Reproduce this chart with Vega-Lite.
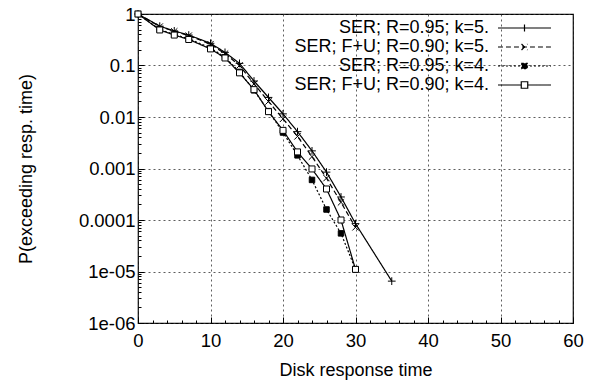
{
  "$schema": "https://vega.github.io/schema/vega-lite/v6.json",
  "autosize": "none",
  "width": 435,
  "height": 309,
  "padding": {"left": 138, "top": 14, "right": 18, "bottom": 58},
  "background": "white",
  "config": {
    "font": "Liberation Sans",
    "view": {"stroke": "black", "strokeWidth": 1.2},
    "axis": {
      "labelFont": "Liberation Sans", "titleFont": "Liberation Sans",
      "labelFontSize": 18.5, "titleFontSize": 18,
      "labelColor": "black", "titleColor": "black", "titleFontWeight": "normal",
      "domain": false, "tickColor": "black", "tickWidth": 1,
      "gridColor": "#333", "gridDash": [2, 3], "gridWidth": 0.8,
      "labelOverlap": false, "labelFlush": false, "labelBound": false
    }
  },
  "data": {"values": [
    {"t": 0, "p": 1, "s": "SER; R=0.95; k=5."},
    {"t": 3, "p": 0.58, "s": "SER; R=0.95; k=5."},
    {"t": 5, "p": 0.47, "s": "SER; R=0.95; k=5."},
    {"t": 7, "p": 0.39, "s": "SER; R=0.95; k=5."},
    {"t": 10, "p": 0.27, "s": "SER; R=0.95; k=5."},
    {"t": 12, "p": 0.18, "s": "SER; R=0.95; k=5."},
    {"t": 14, "p": 0.11, "s": "SER; R=0.95; k=5."},
    {"t": 16, "p": 0.05, "s": "SER; R=0.95; k=5."},
    {"t": 18, "p": 0.024, "s": "SER; R=0.95; k=5."},
    {"t": 20, "p": 0.0115, "s": "SER; R=0.95; k=5."},
    {"t": 22, "p": 0.0052, "s": "SER; R=0.95; k=5."},
    {"t": 24, "p": 0.0022, "s": "SER; R=0.95; k=5."},
    {"t": 26, "p": 0.00085, "s": "SER; R=0.95; k=5."},
    {"t": 28, "p": 0.00028, "s": "SER; R=0.95; k=5."},
    {"t": 30, "p": 0.000085, "s": "SER; R=0.95; k=5."},
    {"t": 35, "p": 0.0000065, "s": "SER; R=0.95; k=5."},
    {"t": 0, "p": 1, "s": "SER; F+U; R=0.90; k=5."},
    {"t": 3, "p": 0.57, "s": "SER; F+U; R=0.90; k=5."},
    {"t": 5, "p": 0.46, "s": "SER; F+U; R=0.90; k=5."},
    {"t": 7, "p": 0.38, "s": "SER; F+U; R=0.90; k=5."},
    {"t": 10, "p": 0.26, "s": "SER; F+U; R=0.90; k=5."},
    {"t": 12, "p": 0.17, "s": "SER; F+U; R=0.90; k=5."},
    {"t": 14, "p": 0.1, "s": "SER; F+U; R=0.90; k=5."},
    {"t": 16, "p": 0.044, "s": "SER; F+U; R=0.90; k=5."},
    {"t": 18, "p": 0.02, "s": "SER; F+U; R=0.90; k=5."},
    {"t": 20, "p": 0.0092, "s": "SER; F+U; R=0.90; k=5."},
    {"t": 22, "p": 0.0042, "s": "SER; F+U; R=0.90; k=5."},
    {"t": 24, "p": 0.0017, "s": "SER; F+U; R=0.90; k=5."},
    {"t": 26, "p": 0.00065, "s": "SER; F+U; R=0.90; k=5."},
    {"t": 28, "p": 0.00022, "s": "SER; F+U; R=0.90; k=5."},
    {"t": 30, "p": 0.000072, "s": "SER; F+U; R=0.90; k=5."},
    {"t": 0, "p": 1, "s": "SER; R=0.95; k=4."},
    {"t": 3, "p": 0.5, "s": "SER; R=0.95; k=4."},
    {"t": 5, "p": 0.4, "s": "SER; R=0.95; k=4."},
    {"t": 7, "p": 0.33, "s": "SER; R=0.95; k=4."},
    {"t": 10, "p": 0.22, "s": "SER; R=0.95; k=4."},
    {"t": 12, "p": 0.145, "s": "SER; R=0.95; k=4."},
    {"t": 14, "p": 0.075, "s": "SER; R=0.95; k=4."},
    {"t": 16, "p": 0.033, "s": "SER; R=0.95; k=4."},
    {"t": 18, "p": 0.013, "s": "SER; R=0.95; k=4."},
    {"t": 20, "p": 0.005, "s": "SER; R=0.95; k=4."},
    {"t": 22, "p": 0.0018, "s": "SER; R=0.95; k=4."},
    {"t": 24, "p": 0.0006, "s": "SER; R=0.95; k=4."},
    {"t": 26, "p": 0.00016, "s": "SER; R=0.95; k=4."},
    {"t": 28, "p": 0.000055, "s": "SER; R=0.95; k=4."},
    {"t": 30, "p": 0.000011, "s": "SER; R=0.95; k=4."},
    {"t": 0, "p": 1, "s": "SER; F+U; R=0.90; k=4."},
    {"t": 3, "p": 0.49, "s": "SER; F+U; R=0.90; k=4."},
    {"t": 5, "p": 0.39, "s": "SER; F+U; R=0.90; k=4."},
    {"t": 7, "p": 0.32, "s": "SER; F+U; R=0.90; k=4."},
    {"t": 10, "p": 0.21, "s": "SER; F+U; R=0.90; k=4."},
    {"t": 12, "p": 0.14, "s": "SER; F+U; R=0.90; k=4."},
    {"t": 14, "p": 0.072, "s": "SER; F+U; R=0.90; k=4."},
    {"t": 16, "p": 0.034, "s": "SER; F+U; R=0.90; k=4."},
    {"t": 18, "p": 0.0127, "s": "SER; F+U; R=0.90; k=4."},
    {"t": 20, "p": 0.0055, "s": "SER; F+U; R=0.90; k=4."},
    {"t": 22, "p": 0.0021, "s": "SER; F+U; R=0.90; k=4."},
    {"t": 24, "p": 0.00098, "s": "SER; F+U; R=0.90; k=4."},
    {"t": 26, "p": 0.0004, "s": "SER; F+U; R=0.90; k=4."},
    {"t": 28, "p": 0.0001, "s": "SER; F+U; R=0.90; k=4."},
    {"t": 30, "p": 0.000011, "s": "SER; F+U; R=0.90; k=4."}
  ]},
  "encoding": {
    "x": {
      "field": "t", "type": "quantitative",
      "scale": {"domain": [0, 60], "nice": false, "zero": false},
      "axis": {
        "title": "Disk response time",
        "values": [0,2,4,6,8,10,12,14,16,18,20,22,24,26,28,30,32,34,36,38,40,42,44,46,48,50,52,54,56,58,60],
        "labelExpr": "datum.value % 10 == 0 ? datum.label : ''",
        "tickSize": {"condition": {"test": "datum.value % 10 != 0", "value": -3}, "value": -6},
        "gridOpacity": {"condition": {"test": "datum.value % 10 != 0", "value": 0}, "value": 1},
        "labelPadding": 14,
        "titleBaseline": "alphabetic", "titleY": 52
      }
    },
    "y": {
      "field": "p", "type": "quantitative",
      "scale": {"type": "log", "domain": [0.000001, 1], "nice": false},
      "axis": {
        "title": "P(exceeding resp. time)",
        "values": [0.000001,0.000002,0.000003,0.000004,0.000005,0.000006,0.000007,0.000008,0.000009,
                   0.00001,0.00002,0.00003,0.00004,0.00005,0.00006,0.00007,0.00008,0.00009,
                   0.0001,0.0002,0.0003,0.0004,0.0005,0.0006,0.0007,0.0008,0.0009,
                   0.001,0.002,0.003,0.004,0.005,0.006,0.007,0.008,0.009,
                   0.01,0.02,0.03,0.04,0.05,0.06,0.07,0.08,0.09,
                   0.1,0.2,0.3,0.4,0.5,0.6,0.7,0.8,0.9,1],
        "labelExpr": "abs(log(datum.value)/LN10 - round(log(datum.value)/LN10)) > 0.001 ? '' : round(log(datum.value)/LN10) == -6 ? '1e-06' : round(log(datum.value)/LN10) == -5 ? '1e-05' : round(log(datum.value)/LN10) == 0 ? '1' : format(datum.value, '.' + (-round(log(datum.value)/LN10)) + 'f')",
        "tickSize": {"condition": {"test": "abs(log(datum.value)/LN10 - round(log(datum.value)/LN10)) > 0.001", "value": -3}, "value": -6},
        "gridOpacity": {"condition": {"test": "abs(log(datum.value)/LN10 - round(log(datum.value)/LN10)) > 0.001", "value": 0}, "value": 1},
        "labelPadding": 9,
        "titleAngle": -90, "titleX": -112, "titleY": 154.5,
        "titleAlign": "center", "titleBaseline": "middle"
      }
    }
  },
  "layer": [
    {
      "mark": {"type": "line", "color": "black", "strokeWidth": 1.2},
      "encoding": {
        "strokeDash": {
          "field": "s", "type": "nominal",
          "scale": {
            "domain": ["SER; R=0.95; k=5.", "SER; F+U; R=0.90; k=5.", "SER; R=0.95; k=4.", "SER; F+U; R=0.90; k=4."],
            "range": [[1, 0], [5, 3], [2, 2], [1, 0]]
          },
          "legend": {
            "title": null,
            "orient": "none", "legendX": 376.5, "legendY": 4,
            "padding": 0,
            "symbolSize": 324,
            "symbolStrokeColor": "black", "symbolStrokeWidth": 1.2,
            "symbolOffset": 0,
            "labelOffset": -45.5,
            "labelAlign": "right",
            "labelFontSize": 18, "labelFont": "Liberation Sans", "labelColor": "black",
            "labelLimit": 0,
            "rowPadding": -1.2,
            "encode": {
              "symbols": {
                "update": {
                  "shape": {"signal": "datum.value === 'SER; R=0.95; k=5.' ? 'M-2.95,0H2.95M0,-0.4V0.4' : datum.value === 'SER; F+U; R=0.90; k=5.' ? 'M-2.95,0H2.95M-0.33,-0.33L0.33,0.33M-0.33,0.33L0.33,-0.33' : datum.value === 'SER; R=0.95; k=4.' ? 'M-2.95,0H2.95M-0.3,-0.3H0.3V0.3H-0.3Z' : 'M-2.95,0H-0.36M0.36,0H2.95M-0.36,-0.36H0.36V0.36H-0.36Z'"},
                  "fill": {"signal": "datum.value === 'SER; R=0.95; k=4.' ? 'black' : datum.value === 'SER; F+U; R=0.90; k=4.' ? 'white' : 'transparent'"},
                  "stroke": {"value": "black"}
                }
              }
            }
          }
        }
      }
    },
    {
      "transform": [{"filter": "datum.s === 'SER; R=0.95; k=5.'"}],
      "mark": {"type": "point", "shape": "M-1,0H1M0,-1V1", "size": 60, "filled": false, "stroke": "black", "strokeWidth": 1, "opacity": 1}
    },
    {
      "transform": [{"filter": "datum.s === 'SER; F+U; R=0.90; k=5.'"}],
      "mark": {"type": "point", "shape": "M-1,-1L1,1M-1,1L1,-1", "size": 40, "filled": false, "stroke": "black", "strokeWidth": 1, "opacity": 1}
    },
    {
      "transform": [{"filter": "datum.s === 'SER; R=0.95; k=4.'"}],
      "mark": {"type": "point", "shape": "square", "size": 30, "fill": "black", "stroke": "black", "strokeWidth": 1, "opacity": 1}
    },
    {
      "transform": [{"filter": "datum.s === 'SER; F+U; R=0.90; k=4.'"}],
      "mark": {"type": "point", "shape": "square", "size": 36, "fill": "white", "stroke": "black", "strokeWidth": 1, "opacity": 1}
    }
  ]
}
